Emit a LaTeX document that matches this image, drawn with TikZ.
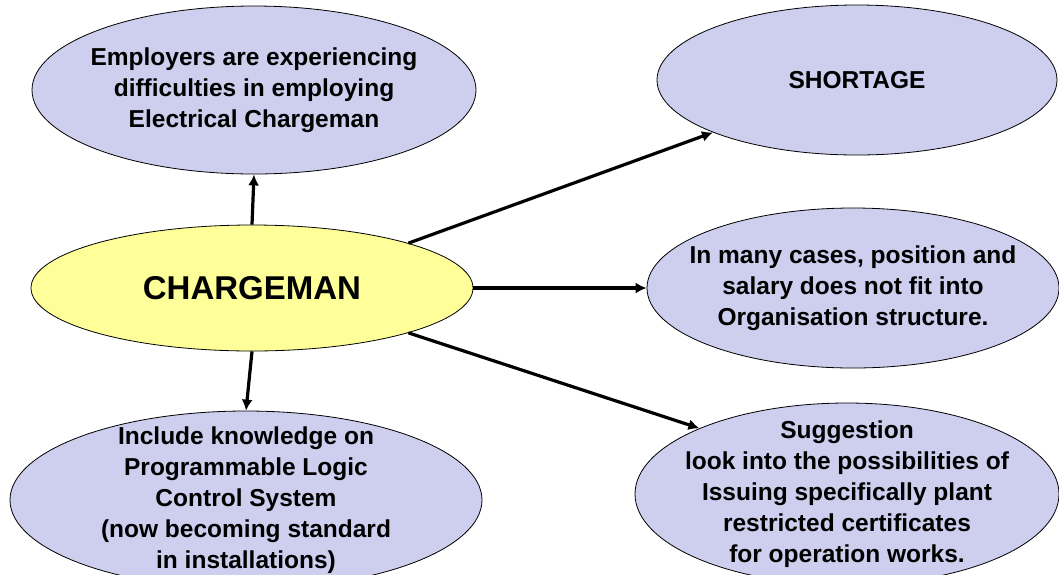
\documentclass[tikz,border=0pt]{standalone}
\usepackage{fontspec}
\setmainfont{Liberation Sans}
\usetikzlibrary{shapes.geometric}
\usetikzlibrary{arrows.meta}
\definecolor{bubblefill}{RGB}{206,206,238}
\definecolor{corefill}{RGB}{255,255,153}

\begin{document}
\begin{tikzpicture}[x=1pt, y=-1pt,
        bubble/.style={draw, ellipse, fill=bubblefill, line width=0.8pt, inner sep=-60pt,
                       align=center, font=\fontsize{24.5}{31}\selectfont\bfseries},
        core/.style={bubble, fill=corefill, font=\fontsize{33}{36}\selectfont\bfseries},
        link/.style={draw, line width=3.2pt, -{Latex[length=11pt, width=11pt]}}]
    \useasboundingbox (0,0) rectangle (1059,574);
    \node[core, minimum width=442pt, minimum height=126pt] (chg) at (252,288) {CHARGEMAN};
    \node[bubble, minimum width=444pt, minimum height=168pt] (emp) at (254,90)
        {Employers are experiencing\\ difficulties in employing\\ Electrical Chargeman};
    \node[bubble, minimum width=400pt, minimum height=150pt] (short) at (857,80) {SHORTAGE};
    \node[bubble, minimum width=412pt, minimum height=160pt] (pos) at (853,288)
        {In many cases, position and\\ salary does not fit into\\ Organisation structure.};
    \node[bubble, minimum width=472pt, minimum height=178pt] (plc) at (246,500)
        {Include knowledge on\\ Programmable Logic\\ Control System\\ (now becoming standard\\ in installations)};
    \node[bubble, minimum width=424pt, minimum height=182pt] (sug) at (847,494)
        {Suggestion\\ look into the possibilities of\\ Issuing specifically plant\\ restricted certificates\\ for operation works.};
    \draw[link] (chg.north) -- (emp.south);
    \draw[link] (chg.16) -- (short.200);
    \draw[link] (chg.east) -- (pos.west);
    \draw[link] (chg.-16) -- (sug.156);
    \draw[link] (chg.south) -- (plc.north);
\end{tikzpicture}
\end{document}
